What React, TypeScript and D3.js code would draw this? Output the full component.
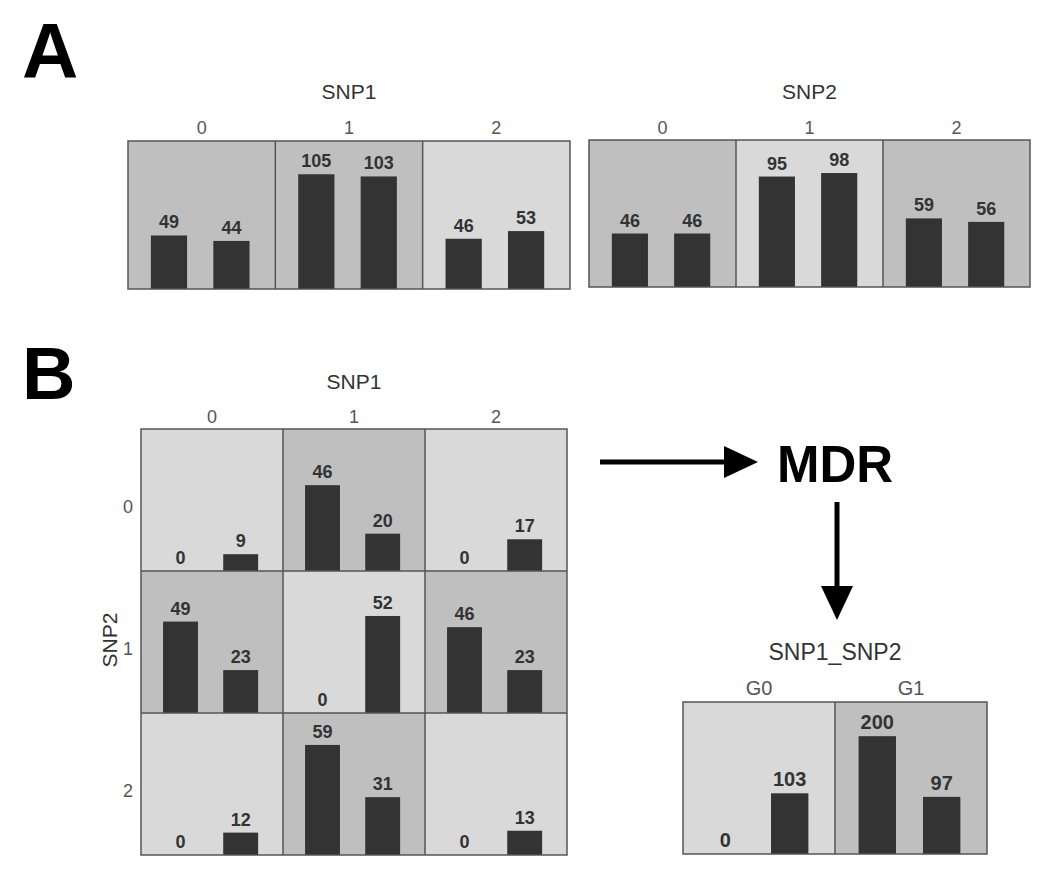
import React from 'react';
import * as d3 from 'd3';

// ---------- data ----------
const genotypes = ['0', '1', '2'];
const snp1Cases = [49, 105, 46];
const snp1Controls = [44, 103, 53];
const snp2Cases = [46, 95, 59];
const snp2Controls = [46, 98, 56];
// two-locus table: rows = SNP2 genotype, columns = SNP1 genotype
const gridCases = [
  [0, 46, 0],
  [49, 0, 46],
  [0, 59, 0],
];
const gridControls = [
  [9, 20, 17],
  [23, 52, 23],
  [12, 31, 13],
];
const mdrGroups = ['G0', 'G1'];
const mdrCases = [0, 200];
const mdrControls = [103, 97];

const FONT = 'Liberation Sans, Arial, Helvetica, sans-serif';
const HIGH = '#bfbfbf';
const LOW = '#d9d9d9';
const BAR = '#333333';
const BORDER = '#555555';

type CellProps = {
  x: number; y: number; w: number; h: number;
  cases: number; controls: number;
  yScale: d3.ScaleLinear<number, number>;
  valueSize: number;
};

function Cell({ x, y, w, h, cases, controls, yScale, valueSize }: CellProps) {
  const band = d3.scaleBand<string>()
    .domain(['case', 'control'])
    .range([0, w])
    .paddingInner(0.42)
    .paddingOuter(0.39)
    .align(0.47);
  const vals: [string, number][] = [['case', cases], ['control', controls]];
  const high = cases >= controls;
  return (
    <g transform={`translate(${x},${y})`}>
      <rect x={0} y={0} width={w} height={h} fill={high ? HIGH : LOW} />
      {vals.map(([k, v]) => (
        <g key={k}>
          {v > 0 && (
            <rect x={band(k)} y={yScale(v)} width={band.bandwidth()} height={h - yScale(v)} fill={BAR} />
          )}
          <text
            x={(band(k) as number) + band.bandwidth() / 2}
            y={yScale(v) - 7}
            textAnchor="middle"
            fontFamily={FONT}
            fontWeight="bold"
            fontSize={valueSize}
            fill="#333"
          >{v}</text>
        </g>
      ))}
    </g>
  );
}

type RowPanelProps = {
  x0: number; y0: number; width: number; height: number;
  title: string; titleY: number; titleSize: number;
  labels: string[]; labelY: number; labelSize: number;
  cases: number[]; controls: number[]; valueSize: number;
};

function RowPanel(p: RowPanelProps) {
  const xs = d3.scaleBand<string>().domain(p.labels).range([p.x0, p.x0 + p.width]);
  const maxV = d3.max([...p.cases, ...p.controls]) as number;
  const ys = d3.scaleLinear().domain([0, maxV * 1.29]).range([p.height, 0]);
  return (
    <g>
      <text x={p.x0 + p.width / 2} y={p.titleY} textAnchor="middle" fontFamily={FONT} fontSize={p.titleSize} fill="#333">{p.title}</text>
      {p.labels.map((l, i) => (
        <g key={l}>
          <text x={(xs(l) as number) + xs.bandwidth() / 2} y={p.labelY} textAnchor="middle" fontFamily={FONT} fontSize={p.labelSize} fill="#555">{l}</text>
          <Cell x={xs(l) as number} y={p.y0} w={xs.bandwidth()} h={p.height} cases={p.cases[i]} controls={p.controls[i]} yScale={ys} valueSize={p.valueSize} />
        </g>
      ))}
      {p.labels.slice(1).map((l) => (
        <line key={l} x1={xs(l)} x2={xs(l)} y1={p.y0} y2={p.y0 + p.height} stroke={BORDER} strokeWidth={1.5} />
      ))}
      <rect x={p.x0} y={p.y0} width={p.width} height={p.height} fill="none" stroke={BORDER} strokeWidth={1.5} />
    </g>
  );
}

function GridPanel() {
  const x0 = 141, y0 = 429, size = 426;
  const xs = d3.scaleBand<string>().domain(genotypes).range([x0, x0 + size]);
  const ys = d3.scaleBand<string>().domain(genotypes).range([y0, y0 + size]);
  const maxV = d3.max([...gridCases.flat(), ...gridControls.flat()]) as number;
  const h = ys.bandwidth();
  const vy = d3.scaleLinear().domain([0, maxV * 1.29]).range([h, 0]);
  return (
    <g>
      <text x={x0 + size / 2} y={389} textAnchor="middle" fontFamily={FONT} fontSize={21} fill="#333">SNP1</text>
      {genotypes.map((g) => (
        <text key={'c' + g} x={(xs(g) as number) + xs.bandwidth() / 2} y={423} textAnchor="middle" fontFamily={FONT} fontSize={18} fill="#555">{g}</text>
      ))}
      {genotypes.map((g) => (
        <text key={'r' + g} x={128} y={(ys(g) as number) + h / 2 + 13} textAnchor="middle" fontFamily={FONT} fontSize={18} fill="#555">{g}</text>
      ))}
      <text transform={`translate(117,${640}) rotate(-90)`} textAnchor="middle" fontFamily={FONT} fontSize={21} fill="#333">SNP2</text>
      {genotypes.map((rg, r) =>
        genotypes.map((cg, c) => (
          <Cell key={rg + cg} x={xs(cg) as number} y={ys(rg) as number} w={xs.bandwidth()} h={h}
            cases={gridCases[r][c]} controls={gridControls[r][c]} yScale={vy} valueSize={18} />
        ))
      )}
      {genotypes.slice(1).map((g) => (
        <g key={'l' + g}>
          <line x1={xs(g)} x2={xs(g)} y1={y0} y2={y0 + size} stroke={BORDER} strokeWidth={1.5} />
          <line x1={x0} x2={x0 + size} y1={ys(g)} y2={ys(g)} stroke={BORDER} strokeWidth={1.5} />
        </g>
      ))}
      <rect x={x0} y={y0} width={size} height={size} fill="none" stroke={BORDER} strokeWidth={1.5} />
    </g>
  );
}

export default function App() {
  return (
    <svg width={1050} height={878} style={{ position: 'absolute', left: 0, top: 0, background: '#fff' }}>
      <rect width={1050} height={878} fill="#fff" />
      <text x={22} y={78} fontFamily={FONT} fontWeight="bold" fontSize={78} fill="#000">A</text>
      <text x={22} y={399} fontFamily={FONT} fontWeight="bold" fontSize={74} fill="#000">B</text>

      <RowPanel x0={128} y0={141} width={442} height={148} title="SNP1" titleY={99} titleSize={21}
        labels={genotypes} labelY={134} labelSize={18} cases={snp1Cases} controls={snp1Controls} valueSize={18} />
      <RowPanel x0={589} y0={140} width={441} height={147} title="SNP2" titleY={99} titleSize={21}
        labels={genotypes} labelY={134} labelSize={18} cases={snp2Cases} controls={snp2Controls} valueSize={18} />

      <GridPanel />

      {/* arrows */}
      <line x1={600} x2={728} y1={462} y2={462} stroke="#000" strokeWidth={5} />
      <polygon points="724,446 758,462 724,478" fill="#000" />
      <text x={835} y={482} textAnchor="middle" fontFamily={FONT} fontWeight="bold" fontSize={51} fill="#000">MDR</text>
      <line x1={837} x2={837} y1={502} y2={590} stroke="#000" strokeWidth={5} />
      <polygon points="821,586 837,620 853,586" fill="#000" />

      <RowPanel x0={683} y0={702} width={304} height={152} title="SNP1_SNP2" titleY={660} titleSize={23}
        labels={mdrGroups} labelY={695} labelSize={20} cases={mdrCases} controls={mdrControls} valueSize={20} />
    </svg>
  );
}
